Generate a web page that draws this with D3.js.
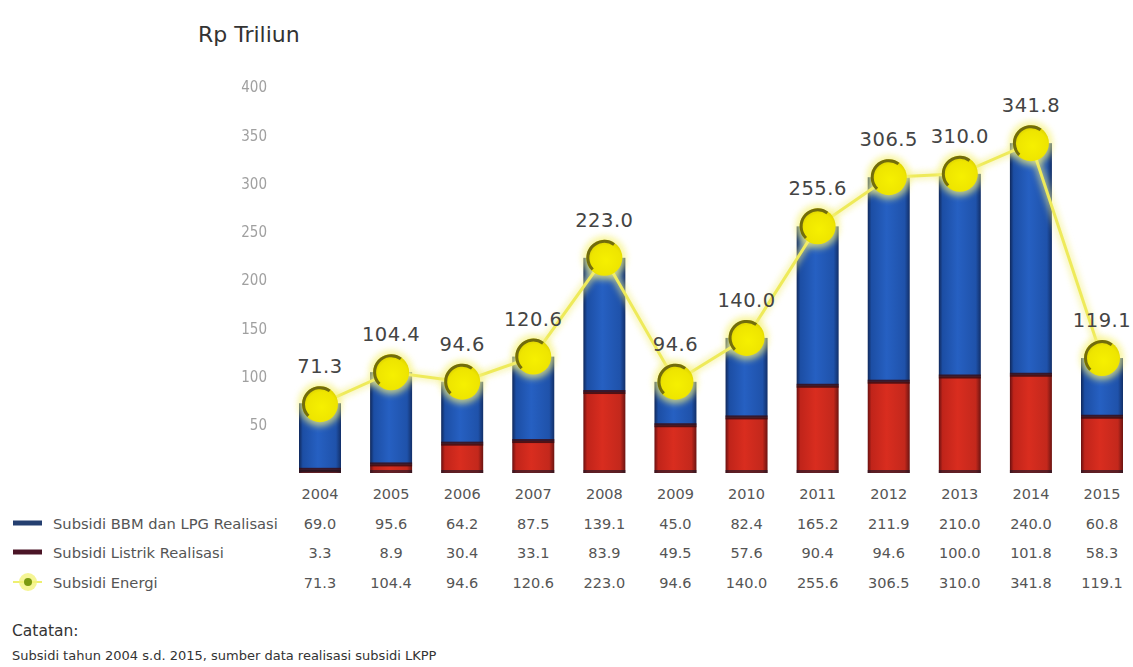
<!DOCTYPE html>
<html>
<head>
<meta charset="utf-8">
<script src="https://cdn.jsdelivr.net/npm/d3@7"></script>
<style>
  html, body { margin: 0; padding: 0; background: #fff; }
  svg { display: block; }
  text { font-family: "DejaVu Sans", "Noto Sans", sans-serif; }
</style>
</head>
<body>
<svg id="chart" width="1133" height="667"></svg>
<script>
// Energy subsidy realisation, Rp trillion
const years = ["2004","2005","2006","2007","2008","2009","2010","2011","2012","2013","2014","2015"];
const bbm = [69.0, 95.6, 64.2, 87.5, 139.1, 45.0, 82.4, 165.2, 211.9, 210.0, 240.0, 60.8];
const listrik = [3.3, 8.9, 30.4, 33.1, 83.9, 49.5, 57.6, 90.4, 94.6, 100.0, 101.8, 58.3];
const energi = [71.3, 104.4, 94.6, 120.6, 223.0, 94.6, 140.0, 255.6, 306.5, 310.0, 341.8, 119.1];
const yTicks = [50, 100, 150, 200, 250, 300, 350, 400];
const seriesNames = ["Subsidi BBM dan LPG Realisasi", "Subsidi Listrik Realisasi", "Subsidi Energi"];

const svg = d3.select("#chart");
const defs = svg.append("defs");

const x = d3.scalePoint().domain(years).range([320, 1102]);
const y = d3.scaleLinear().domain([0, 400]).range([473, 87]);
const barW = 42;

// cylinder-like shading for the bars
function hGrad(id, stops) {
  const g = defs.append("linearGradient").attr("id", id)
    .attr("x1", "0%").attr("x2", "100%").attr("y1", "0%").attr("y2", "0%");
  stops.forEach(([o, c]) => g.append("stop").attr("offset", o).attr("stop-color", c));
}
hGrad("gBlue", [["0%", "#10285a"], ["9%", "#1c4ea4"], ["45%", "#2660c2"], ["88%", "#1f52aa"], ["100%", "#122f68"]]);
hGrad("gRed", [["0%", "#6a1010"], ["9%", "#c0241a"], ["45%", "#d92d1f"], ["88%", "#c3281c"], ["100%", "#6c1411"]]);

const rg = defs.append("radialGradient").attr("id", "gDot")
  .attr("cx", "55%").attr("cy", "58%").attr("r", "60%");
rg.append("stop").attr("offset", "0%").attr("stop-color", "#f6f000");
rg.append("stop").attr("offset", "70%").attr("stop-color", "#eee500");
rg.append("stop").attr("offset", "100%").attr("stop-color", "#d4c800");

const glow = defs.append("filter").attr("id", "glow")
  .attr("x", "-50%").attr("y", "-50%").attr("width", "200%").attr("height", "200%");
glow.append("feGaussianBlur").attr("stdDeviation", 3);

const soft = defs.append("filter").attr("id", "soft");
soft.append("feGaussianBlur").attr("stdDeviation", 0.5);

// title and y axis labels
svg.append("text").attr("x", 198).attr("y", 42)
  .attr("font-size", 22).attr("fill", "#333").text("Rp Triliun");

const yAxis = svg.append("g").attr("transform", "translate(267,0)")
  .call(d3.axisLeft(y).tickValues(yTicks).tickSize(0).tickPadding(0));
yAxis.select(".domain").remove();
yAxis.selectAll("text").attr("font-size", 15).attr("fill", "#a0a0a0")
  .style("font-family", "'DejaVu Sans Condensed', 'DejaVu Sans', sans-serif")
  .attr("filter", "url(#soft)");

// stacked bars
const bars = svg.append("g");
years.forEach((yr, i) => {
  const cx = x(yr);
  // electricity at the bottom
  bars.append("rect").attr("x", cx - barW / 2).attr("width", barW)
    .attr("y", y(listrik[i])).attr("height", y(0) - y(listrik[i]))
    .attr("fill", "url(#gRed)");
  // fuel & LPG stacked on top
  bars.append("rect").attr("x", cx - barW / 2).attr("width", barW)
    .attr("y", y(listrik[i] + bbm[i])).attr("height", y(listrik[i]) - y(listrik[i] + bbm[i]))
    .attr("fill", "url(#gBlue)");
  // dark seam between segments
  bars.append("rect").attr("x", cx - barW / 2).attr("width", barW)
    .attr("y", y(listrik[i]) - 2).attr("height", 4)
    .attr("fill", "#3a0d14").attr("opacity", 0.85);
  // dark base edge
  bars.append("rect").attr("x", cx - barW / 2).attr("width", barW)
    .attr("y", y(0) - 3).attr("height", 3)
    .attr("fill", "#14182a").attr("opacity", 0.6);
});

// total energy subsidy line with markers
const line = d3.line().x((d, i) => x(years[i])).y(d => y(d));
svg.append("path").datum(energi).attr("d", line)
  .attr("fill", "none").attr("stroke", "#f4f08a").attr("stroke-width", 8)
  .attr("opacity", 0.6).attr("filter", "url(#glow)");
svg.append("path").datum(energi).attr("d", line)
  .attr("fill", "none").attr("stroke", "#eeea5a").attr("stroke-width", 3);

const dots = svg.append("g");
energi.forEach((v, i) => {
  const cx = x(years[i]), cy = y(v);
  dots.append("circle").attr("cx", cx).attr("cy", cy).attr("r", 22)
    .attr("fill", "#f6f27a").attr("opacity", 0.7).attr("filter", "url(#glow)");
  dots.append("circle").attr("cx", cx).attr("cy", cy).attr("r", 18)
    .attr("fill", "url(#gDot)");
  // dark rim on the upper-left for a domed look
  const arc = d3.arc().innerRadius(15).outerRadius(18)
    .startAngle(-Math.PI * 0.75).endAngle(Math.PI * 0.2);
  dots.append("path").attr("d", arc()).attr("transform", `translate(${cx},${cy})`)
    .attr("fill", "#4e4a10").attr("opacity", 0.75);
  dots.append("text").attr("x", cx).attr("y", cy - 31)
    .attr("text-anchor", "middle").attr("font-size", 19.5).attr("fill", "#444")
    .attr("letter-spacing", 0.5)
    .text(v.toFixed(1));
});

// data table below the chart
const table = svg.append("g").attr("font-size", 14.5).attr("fill", "#555");
const rows = [
  { y: 499, vals: years },
  { y: 529, vals: bbm.map(d => d.toFixed(1)) },
  { y: 558, vals: listrik.map(d => d.toFixed(1)) },
  { y: 588, vals: energi.map(d => d.toFixed(1)) }
];
rows.forEach(r => {
  table.selectAll(null).data(r.vals).join("text")
    .attr("x", (d, i) => x(years[i])).attr("y", r.y)
    .attr("text-anchor", "middle").attr("fill", "#555").text(d => d);
});

// legend
const lg = svg.append("g");
lg.append("line").attr("x1", 13).attr("x2", 42).attr("y1", 523).attr("y2", 523)
  .attr("stroke", "#243f70").attr("stroke-width", 5);
lg.append("line").attr("x1", 13).attr("x2", 42).attr("y1", 552).attr("y2", 552)
  .attr("stroke", "#4a1426").attr("stroke-width", 5);
lg.append("line").attr("x1", 13).attr("x2", 42).attr("y1", 582).attr("y2", 582)
  .attr("stroke", "#eef070").attr("stroke-width", 2);
lg.append("circle").attr("cx", 28).attr("cy", 582).attr("r", 9)
  .attr("fill", "#f2f27a").attr("opacity", 0.8);
lg.append("circle").attr("cx", 28).attr("cy", 582).attr("r", 4).attr("fill", "#7a9a10");
[529, 558, 588].forEach((ty, i) => {
  lg.append("text").attr("x", 53).attr("y", ty)
    .attr("font-size", 14.7).attr("fill", "#555").text(seriesNames[i]);
});

// notes
svg.append("text").attr("x", 12).attr("y", 636).attr("font-size", 15.5).attr("fill", "#333").text("Catatan:");
svg.append("text").attr("x", 12).attr("y", 660).attr("font-size", 13).attr("fill", "#333")
  .text("Subsidi tahun 2004 s.d. 2015, sumber data realisasi subsidi LKPP");
</script>
</body>
</html>
